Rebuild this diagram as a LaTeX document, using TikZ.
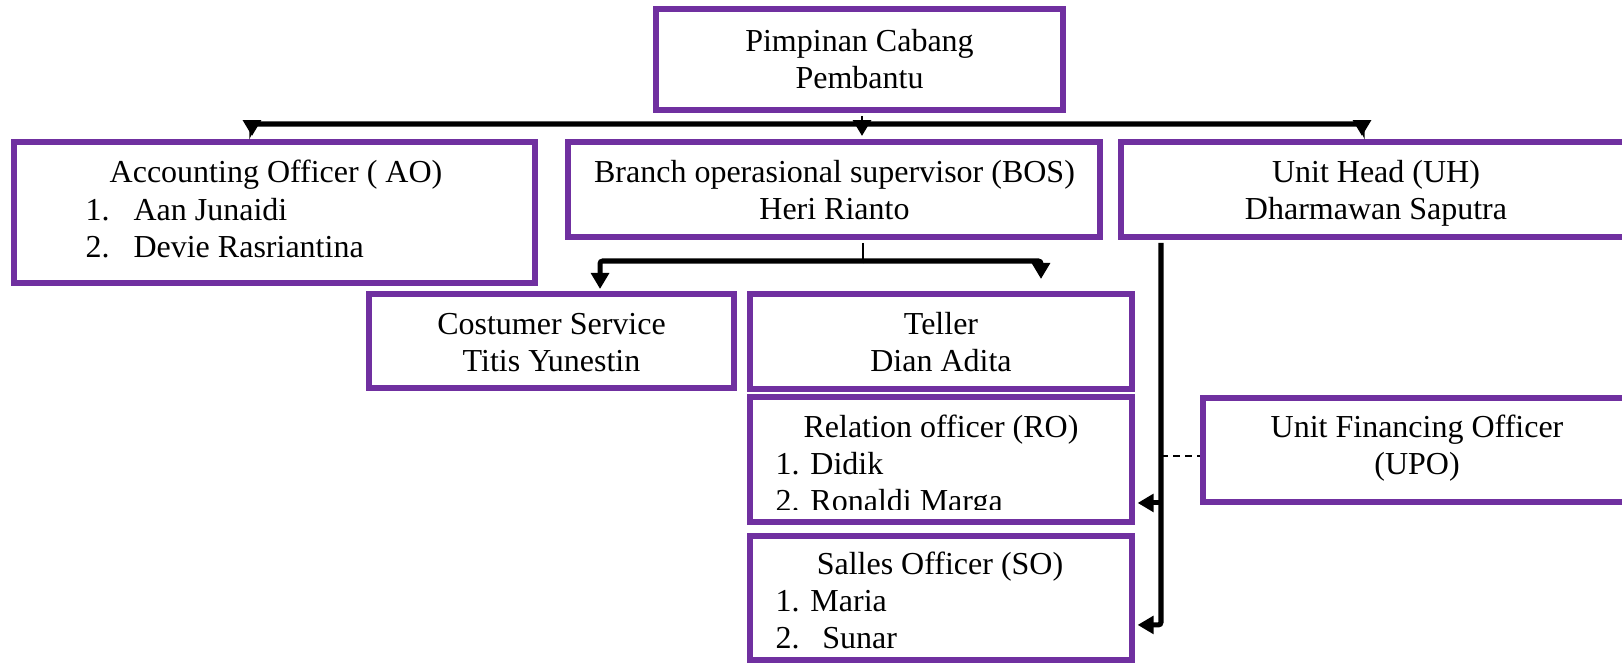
\documentclass[tikz,border=0pt]{standalone}
\usepackage{fontspec}
\setmainfont{Liberation Serif}
\usetikzlibrary{arrows.meta,fit}
\definecolor{boxpurple}{HTML}{7030A0}
\tikzset{
  box/.style={draw=boxpurple, line width=2.25pt, inner sep=0pt},
  txt/.style={inner sep=0pt, anchor=base, font=\fontsize{12}{13.8}\selectfont},
  conn/.style={line width=1.9pt, rounded corners=1pt, -{Triangle[width=6.6pt,length=6pt,sharp]}},
  stem/.style={line width=0.75pt},
  dashconn/.style={line width=0.45pt, dash pattern=on 2.6pt off 1.9pt},
}
\begin{document}
\begin{tikzpicture}[x=0.375pt, y=-0.375pt]
\useasboundingbox (0,0) rectangle (1622,665);
\fill[white] (0,0) rectangle (1622,665);
\clip (0,0) rectangle (1622,665);

% boxes
\node[box, fit={(656,9) (1063,110)}] (top) {};
\node[box, fit={(14,142) (535,283)}] (ao) {};
\node[box, fit={(568,142) (1100,237)}] (bos) {};
\node[box, fit={(1121,142) (1632,237)}] (uh) {};
\node[box, fit={(369,294) (734,388)}] (cs) {};
\node[box, fit={(750,294) (1132,389)}] (teller) {};
\node[box, fit={(750,397) (1132,522)}] (ro) {};
\node[box, fit={(750,536) (1132,660)}] (so) {};
\node[box, fit={(1203,398) (1632,502)}] (upo) {};

% texts
\node[txt] (topT) at (859.5,52) {\begin{tabular}[t]{@{}c@{}}Pimpinan Cabang\\Pembantu\end{tabular}};
\node[txt] (aoT) at (276,183) {Accounting Officer ( AO)};
\node[txt, anchor=base west] (aoL) at (85,221) {\begin{tabular}[t]{@{}l@{}}\makebox[18pt][l]{1.}Aan Junaidi\\\makebox[18pt][l]{2.}Devie Rasriantina\end{tabular}};
\node[txt] (bosT) at (834.5,183) {\begin{tabular}[t]{@{}c@{}}Branch operasional supervisor (BOS)\\Heri Rianto\end{tabular}};
\node[txt] (uhT) at (1376,183) {\begin{tabular}[t]{@{}c@{}}Unit Head (UH)\\Dharmawan Saputra\end{tabular}};
\node[txt] (csT) at (551.5,335) {\begin{tabular}[t]{@{}c@{}}Costumer Service\\Titis Yunestin\end{tabular}};
\node[txt] (telT) at (941,335) {\begin{tabular}[t]{@{}c@{}}Teller\\Dian Adita\end{tabular}};
\node[txt] (roT) at (941,438) {Relation officer (RO)};
\begin{scope}
\clip (750,397) rectangle (1132,510);
\node[txt, anchor=base west] (roL) at (775,475) {\begin{tabular}[t]{@{}l@{}}\makebox[13.1pt][l]{1.}Didik\\\makebox[13.1pt][l]{2.}Ronaldi Marga\end{tabular}};
\end{scope}
\node[txt] (soT) at (940,575) {Salles Officer (SO)};
\node[txt, anchor=base west] (soL) at (775,612) {\begin{tabular}[t]{@{}l@{}}\makebox[13.1pt][l]{1.}Maria\\\makebox[13.1pt][l]{2.}\hspace*{4.5pt}Sunar\end{tabular}};
\node[txt] (upoT) at (1417,438) {\begin{tabular}[t]{@{}c@{}}Unit Financing Officer\\(UPO)\end{tabular}};

% connectors from Pimpinan
\coordinate (hubA) at (862,124);
\path (top.south -| hubA) coordinate (stA);
\draw[stem] ([yshift=-1.1pt]stA) -- (hubA);
\draw[conn, shorten >=1.1pt] (hubA) -| ([xshift=-8.44pt]ao.north);
\draw[conn, shorten >=1.1pt] (hubA) -- ([xshift=10.5pt]bos.north);
\draw[conn, shorten >=1.1pt] (hubA) -| ([xshift=-5.44pt]uh.north);

% connectors from BOS
\coordinate (hubB) at (863,261);
\path (bos.south -| hubB) coordinate (stB);
\draw[stem] ([yshift=-1.1pt]stB) -- (hubB);
\draw[conn, shorten >=0.75pt] (hubB) -| ([xshift=18.2pt]cs.north);
\draw[conn, shorten >=4.5pt] (hubB) -| ([xshift=37.5pt]teller.north);

% connectors from UH
\coordinate (trunkX) at (1161,300);
\path (uh.south -| trunkX) coordinate (trTop);
\coordinate (roArr) at ([yshift=-16.3pt]ro.east);
\coordinate (soArr) at ([yshift=-10.1pt]so.east);
\coordinate (upoD) at ([yshift=-2.25pt]upo.west);
\draw[dashconn] (trunkX |- upoD) -- (upoD);
\draw[conn, shorten >=1pt] ([yshift=-1.1pt]trTop) |- (soArr);
\draw[conn, shorten >=1pt] (trunkX |- roArr) -- (roArr);
\end{tikzpicture}
\end{document}
